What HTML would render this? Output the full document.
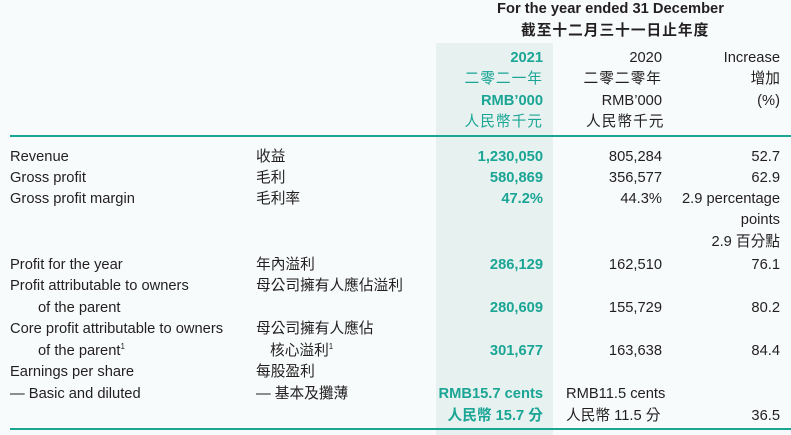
<!DOCTYPE html>
<html><head><meta charset="utf-8"><style>
body{margin:0;width:791px;height:435px;background:#f7fbfb;position:relative;overflow:hidden;font-family:"Liberation Sans","Noto Sans CJK TC",sans-serif;font-size:14.7px;color:#231f20}
.t{position:absolute;white-space:nowrap;line-height:20px}
.r{text-align:right}
.g{color:#1aa595;font-weight:bold}
.gc{color:#1aa595}
.col{position:absolute;left:436px;top:43px;width:117px;height:392px;background:#e7f1f0}
.ln{position:absolute;left:10px;right:0;height:2px;background:#1aa595}
.s{font-size:8px;position:relative;top:-6px}
</style></head><body>
<div class="col"></div>
<div class="ln" style="top:135px"></div>
<div class="ln" style="top:428px"></div>
<div class="t" style="left:497px;top:-1px;font-weight:bold">For the year ended 31 December</div>
<div class="t" style="left:521px;top:21px;font-weight:bold;letter-spacing:1px">截至十二月三十一日止年度</div>

<div class="t r g" style="right:248px;top:48px">2021</div>
<div class="t r gc" style="right:248px;top:69px;letter-spacing:1px">二零二一年</div>
<div class="t r g" style="right:248px;top:91px">RMB’000</div>
<div class="t r gc" style="right:248px;top:112px;letter-spacing:1px">人民幣千元</div>

<div class="t r" style="right:129px;top:48px">2020</div>
<div class="t r" style="right:129px;top:69px;letter-spacing:1px">二零二零年</div>
<div class="t r" style="right:129px;top:91px">RMB’000</div>
<div class="t" style="left:586px;top:112px;letter-spacing:1px">人民幣千元</div>

<div class="t r" style="right:11px;top:48px">Increase</div>
<div class="t r" style="right:11px;top:69px">增加</div>
<div class="t r" style="right:11px;top:91px">(%)</div>

<div class="t" style="left:10px;top:147px">Revenue</div>
<div class="t" style="left:10px;top:168px">Gross profit</div>
<div class="t" style="left:10px;top:189px">Gross profit margin</div>
<div class="t" style="left:10px;top:255px">Profit for the year</div>
<div class="t" style="left:10px;top:276px">Profit attributable to owners</div>
<div class="t" style="left:38px;top:298px">of the parent</div>
<div class="t" style="left:10px;top:319px">Core profit attributable to owners</div>
<div class="t" style="left:38px;top:341px">of the parent<span class="s">1</span></div>
<div class="t" style="left:10px;top:362px">Earnings per share</div>
<div class="t" style="left:10px;top:384px">— Basic and diluted</div>

<div class="t" style="left:256px;top:147px">收益</div>
<div class="t" style="left:256px;top:168px">毛利</div>
<div class="t" style="left:256px;top:189px">毛利率</div>
<div class="t" style="left:256px;top:255px">年內溢利</div>
<div class="t" style="left:256px;top:276px">母公司擁有人應佔溢利</div>
<div class="t" style="left:256px;top:319px">母公司擁有人應佔</div>
<div class="t" style="left:270px;top:341px">核心溢利<span class="s">1</span></div>
<div class="t" style="left:256px;top:362px">每股盈利</div>
<div class="t" style="left:256px;top:384px">— 基本及攤薄</div>

<div class="t r g" style="right:248px;top:147px">1,230,050</div>
<div class="t r g" style="right:248px;top:168px">580,869</div>
<div class="t r g" style="right:248px;top:189px">47.2%</div>
<div class="t r g" style="right:248px;top:255px">286,129</div>
<div class="t r g" style="right:248px;top:298px">280,609</div>
<div class="t r g" style="right:248px;top:341px">301,677</div>
<div class="t r g" style="right:248px;top:384px">RMB15.7 cents</div>
<div class="t r g" style="right:248px;top:406px">人民幣 15.7 分</div>

<div class="t r" style="right:129px;top:147px">805,284</div>
<div class="t r" style="right:129px;top:168px">356,577</div>
<div class="t r" style="right:129px;top:189px">44.3%</div>
<div class="t r" style="right:129px;top:255px">162,510</div>
<div class="t r" style="right:129px;top:298px">155,729</div>
<div class="t r" style="right:129px;top:341px">163,638</div>
<div class="t" style="left:566px;top:384px">RMB11.5 cents</div>
<div class="t" style="left:566px;top:406px">人民幣 11.5 分</div>

<div class="t r" style="right:11px;top:147px">52.7</div>
<div class="t r" style="right:11px;top:168px">62.9</div>
<div class="t r" style="right:11px;top:189px">2.9 percentage</div>
<div class="t r" style="right:11px;top:210px">points</div>
<div class="t r" style="right:11px;top:232px">2.9 百分點</div>
<div class="t r" style="right:11px;top:255px">76.1</div>
<div class="t r" style="right:11px;top:298px">80.2</div>
<div class="t r" style="right:11px;top:341px">84.4</div>
<div class="t r" style="right:11px;top:406px">36.5</div>
</body></html>
